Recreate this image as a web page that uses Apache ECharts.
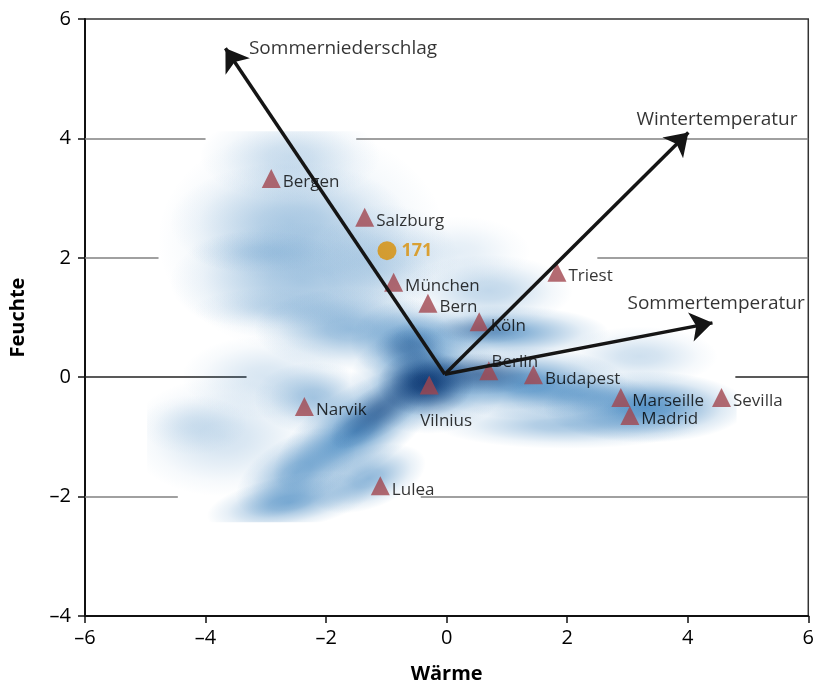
<!DOCTYPE html>
<html>
<head>
<meta charset="utf-8">
<script src="https://cdn.jsdelivr.net/npm/echarts@6/dist/echarts.min.js"></script>
<style>html,body{margin:0;padding:0;background:#fff}#c{width:817px;height:689px}</style>
</head>
<body>
<div id="c"></div>
<script>
// ---- data ----
var cityNames = ['Bergen','Salzburg','München','Bern','Köln','Triest','Berlin','Budapest','Vilnius','Narvik','Lulea','Marseille','Madrid','Sevilla'];
var cityX = [-2.91,-1.36,-0.88,-0.31,0.54,1.83,0.70,1.44,-0.29,-2.36,-1.10,2.89,3.04,4.56];
var cityY = [3.33,2.68,1.59,1.24,0.93,1.76,0.11,0.04,-0.13,-0.49,-1.82,-0.34,-0.64,-0.34];

var caseName = ['171'];
var caseX = [-0.99];
var caseY = [2.12];

var arrowNames = ['Sommerniederschlag','Wintertemperatur','Sommertemperatur'];
var arrowOrigin = [-0.03, 0.05];
var arrowTipX = [-3.67, 4.01, 4.41];
var arrowTipY = [5.51, 4.10, 0.91];
var arrowLabelX = [-3.28, 3.15, 3.0];
var arrowLabelY = [5.51, 4.32, 1.24];

var xTicks = [-6,-4,-2,0,2,4,6];
var yTicks = [-4,-2,0,2,4,6];

// horizontal reference lines: [y, xFrom, xTo] (parts hidden behind the density image are left out)
var gridSegments = [[4,-6,-4.0],[4,-1.5,6],[2,-6,-4.78],[2,2.5,6],[0,-6,-3.32],[0,4.79,6],[-2,-6,-4.46],[-2,-0.43,6]];

// density image extent [xMin, xMax, yMin, yMax]
var densityExtent = [-4.97, 4.81, -2.43, 4.12];
// density blobs: [x, y, radiusX, radiusY, strength, angleDeg, dark(0/1)]
var densityBlobs = [
  [-2.4, 2.3, 2.4, 1.9, 0.2, 0, 0],
  [-2.6, 3.7, 1.5, 0.75, 0.22, 0, 0],
  [-2.6, 2.6, 2.0, 1.0, 0.25, 0, 0],
  [-2.4, 1.6, 2.2, 1.0, 0.3, 0, 0],
  [-1.0, 2.0, 1.2, 0.9, 0.22, 0, 0],
  [0.2, 2.1, 1.2, 0.6, 0.12, 0, 0],
  [0.7, 1.45, 1.4, 0.6, 0.28, 0, 0],
  [-3.7, -1.0, 1.6, 1.0, 0.2, 0, 0],
  [-4.2, -0.8, 0.9, 0.5, 0.12, 0, 0],
  [-3.0, 0.0, 1.4, 0.7, 0.18, 0, 0],
  [3.2, 0.35, 1.3, 0.5, 0.22, 0, 0],
  [-1.6, 0.8, 1.6, 0.7, 0.45, 0, 0],
  [-0.6, 0.6, 1.0, 0.7, 0.55, 0, 0],
  [0.9, 0.75, 1.8, 0.45, 0.6, 0, 0],
  [-0.3, -0.05, 1.3, 0.9, 0.75, 0, 0],
  [1.3, -0.1, 1.7, 0.6, 0.7, 0, 0],
  [3.3, -0.5, 1.7, 0.6, 0.75, 0, 0],
  [2.2, -0.3, 1.2, 0.4, 0.4, 0, 0],
  [2.0, -0.8, 2.2, 0.4, 0.4, 0, 0],
  [-1.5, -0.9, 1.6, 0.7, 0.75, 34, 0],
  [-2.5, -1.6, 1.1, 0.6, 0.5, 30, 0],
  [-2.6, -2.1, 1.4, 0.45, 0.55, 10, 0],
  [-1.3, -1.7, 1.0, 0.5, 0.5, 20, 0],
  [-2.2, -0.35, 1.0, 0.6, 0.4, 0, 0],
  [-3.1, 2.1, 1.2, 0.35, 0.15, 0, 0],
  [-2.8, 1.15, 1.4, 0.35, 0.15, 0, 0],
  [-0.35, -0.1, 0.8, 0.55, 0.85, 0, 1],
  [-1.1, -0.55, 1.0, 0.4, 0.45, 34, 1],
  [0.5, 0.05, 1.1, 0.35, 0.45, 0, 1],
  [0.6, 0.8, 0.8, 0.25, 0.25, 0, 1],
  [-0.6, 0.5, 0.6, 0.4, 0.3, 0, 1]
];

// ---- chart ----
var FONT = '"Open Sans", "Noto Sans", sans-serif';
var chart = echarts.init(document.getElementById('c'));

function dash(v){ return String(v).replace('-', '\u2013'); }

var cityData = cityNames.map(function(n,i){
  var d = {name:n, value:[cityX[i], cityY[i]]};
  if (n === 'Vilnius') d.label = {position:'bottom', offset:[17, 16]};
  if (n === 'Berlin') d.label = {position:'top', offset:[26, 12]};
  return d;
});

var gridLineData = gridSegments.map(function(s){
  return {coords:[[s[1], s[0]],[s[2], s[0]]],
          lineStyle:{color: s[0] === 0 ? '#222' : '#808080', width: 1.5, opacity:1}};
});

var arrowData = arrowNames.map(function(n,i){
  return {coords:[arrowOrigin, [arrowTipX[i], arrowTipY[i]]]};
});
var arrowLabelData = arrowNames.map(function(n,i){
  return {name:n, value:[arrowLabelX[i], arrowLabelY[i]]};
});

var stops = [[0,1],[0.25,0.85],[0.5,0.52],[0.75,0.2],[1,0]];

chart.setOption({
  animation:false,
  backgroundColor:'#fff',
  grid:{left:85, right:6, top:19, bottom:73, show:true, borderColor:'#333', borderWidth:1.5, backgroundColor:'transparent'},
  xAxis:{
    type:'value', min:-6, max:6, interval:2,
    name:'Wärme', nameLocation:'middle', nameGap:48,
    nameTextStyle:{fontFamily:FONT, fontSize:20, fontWeight:'bold', color:'#000'},
    axisLine:{show:true, onZero:false, lineStyle:{color:'#111', width:2}},
    axisTick:{show:true, length:7, lineStyle:{color:'#111', width:1.5}},
    axisLabel:{fontFamily:FONT, fontSize:20, color:'#000', margin:12, formatter:dash},
    splitLine:{show:false}
  },
  yAxis:{
    type:'value', min:-4, max:6, interval:2,
    name:'Feuchte', nameLocation:'middle', nameGap:57,
    nameTextStyle:{fontFamily:FONT, fontSize:20, fontWeight:'bold', color:'#000'},
    axisLine:{show:true, onZero:false, lineStyle:{color:'#111', width:2}},
    axisTick:{show:true, length:7, lineStyle:{color:'#111', width:1.5}},
    axisLabel:{fontFamily:FONT, fontSize:20, color:'#000', margin:14, formatter:dash},
    splitLine:{show:false}
  },
  series:[
    {
      type:'lines', coordinateSystem:'cartesian2d', silent:true, z:1,
      symbol:'none', lineStyle:{opacity:1}, data:gridLineData
    },
    {
      type:'custom', coordinateSystem:'cartesian2d', silent:true, z:2,
      data:densityBlobs,
      renderItem:function(params, api){
        var c = api.coord([api.value(0), api.value(1)]);
        var s = api.size([api.value(2), api.value(3)]);
        var a = api.value(4);
        var rgb = api.value(6) ? '8,48,107' : '33,113,181';
        var p0 = api.coord([densityExtent[0], densityExtent[3]]);
        var p1 = api.coord([densityExtent[1], densityExtent[2]]);
        var R = 50;
        return {
          type:'group',
          clipPath:{type:'rect', shape:{x:p0[0], y:p0[1], width:p1[0]-p0[0], height:p1[1]-p0[1]}},
          children:[{
            type:'circle',
            x:c[0], y:c[1],
            scaleX:s[0]/R, scaleY:s[1]/R,
            rotation:api.value(5)*Math.PI/180,
            shape:{cx:0, cy:0, r:R},
            style:{fill:{type:'radial', x:0.5, y:0.5, r:0.5,
              colorStops:stops.map(function(st){ return {offset:st[0], color:'rgba('+rgb+','+(a*st[1]).toFixed(3)+')'}; })}}
          }]
        };
      }
    },
    {
      type:'scatter', z:5, symbol:'triangle', symbolSize:19,
      itemStyle:{color:'#a1464f'},
      label:{show:true, position:'right', distance:2, offset:[0,4], formatter:'{b}',
        fontFamily:FONT, fontSize:17, color:'#000'},
      data:cityData
    },
    {
      type:'scatter', z:5, symbol:'circle', symbolSize:19,
      itemStyle:{color:'#d98e04'},
      label:{show:true, position:'right', distance:5, formatter:'{b}',
        fontFamily:FONT, fontSize:18, fontWeight:'bold', color:'#d98e04'},
      data:caseName.map(function(n,i){ return {name:n, value:[caseX[i], caseY[i]]}; })
    },
    {
      type:'lines', coordinateSystem:'cartesian2d', silent:true, z:6,
      symbol:['none','arrow'], symbolSize:22,
      lineStyle:{color:'#151515', width:3.5, opacity:1},
      data:arrowData
    },
    {
      type:'scatter', z:6, symbolSize:0, silent:true,
      label:{show:true, position:'inside', align:'left', verticalAlign:'middle', formatter:'{b}',
        fontFamily:FONT, fontSize:19, color:'#000'},
      data:arrowLabelData
    }
  ]
});
</script>
</body>
</html>
